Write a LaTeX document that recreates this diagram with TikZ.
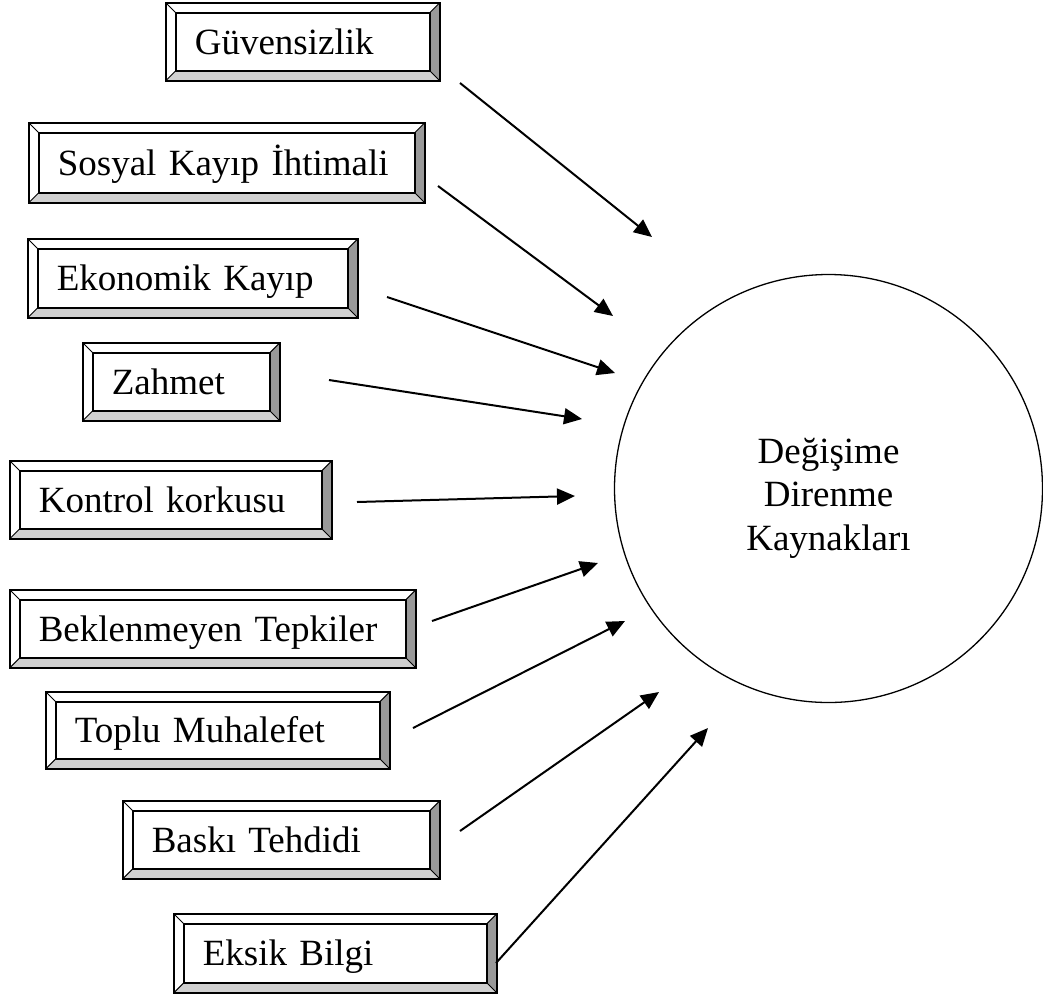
\documentclass[tikz,border=0pt]{standalone}
\usepackage{fontspec}
\setmainfont{Liberation Serif}
\usetikzlibrary{arrows.meta,calc}
\definecolor{bevdark}{HTML}{999999}
\definecolor{bevlight}{HTML}{D0D0D0}

\begin{document}
\begin{tikzpicture}[
   x=1pt, y=-1pt, line width=1.6pt,
   bevel/.style={draw,rectangle,anchor=north west,align=left,
                 inner xsep=29pt,inner ysep=0pt,
                 font=\fontsize{37}{44}\selectfont,
                 text height=29.6pt,text depth=5.1pt,
                 path picture={
                   \coordinate (nw) at (path picture bounding box.north west);
                   \coordinate (ne) at (path picture bounding box.north east);
                   \coordinate (sw) at (path picture bounding box.south west);
                   \coordinate (se) at (path picture bounding box.south east);
                   \coordinate (inw) at ($(nw)+(10pt,-10pt)$);
                   \coordinate (ine) at ($(ne)+(-10pt,-10pt)$);
                   \coordinate (isw) at ($(sw)+(10pt,10pt)$);
                   \coordinate (ise) at ($(se)+(-10pt,10pt)$);
                   \fill[bevdark] (ne) -- (se) -- (ise) -- (ine) -- cycle;
                   \fill[bevlight] (sw) -- (se) -- (ise) -- (isw) -- cycle;
                   \draw[line width=0.9pt] (nw) -- (inw) (ne) -- (ine)
                                           (sw) -- (isw) (se) -- (ise);
                   \draw[line width=1.5pt] (inw) rectangle (ise);
                 }},
   goal/.style={draw,circle,inner sep=0pt,line width=1.3pt},
   goaltext/.style={align=center,font=\fontsize{37}{43.5}\selectfont},
   arr/.style={-{Triangle[length=18pt,width=16pt]},line width=2pt},
   ]
\useasboundingbox (0,0) rectangle (1043,994);
%% sources of resistance
\node[bevel,minimum width=274pt,minimum height=78pt,text width=216pt] (g)  at (165,2)   {Güvensizlik};
\node[bevel,minimum width=396pt,minimum height=80pt,text width=338pt] (s)  at (28,122)  {Sosyal Kayıp İhtimali};
\node[bevel,minimum width=330pt,minimum height=79pt,text width=272pt] (e)  at (27,238)  {Ekonomik Kayıp};
\node[bevel,minimum width=197pt,minimum height=78pt,text width=139pt] (z)  at (82,342)  {Zahmet};
\node[bevel,minimum width=322pt,minimum height=78pt,text width=264pt] (k)  at (9,460)   {Kontrol korkusu};
\node[bevel,minimum width=406pt,minimum height=78pt,text width=348pt] (b)  at (9,589)   {Beklenmeyen Tepkiler};
\node[bevel,minimum width=344pt,minimum height=77pt,text width=286pt] (t)  at (45,691)  {Toplu Muhalefet};
\node[bevel,minimum width=317pt,minimum height=78pt,text width=259pt] (bt) at (122,800) {Baskı Tehdidi};
\node[bevel,minimum width=323pt,minimum height=79pt,text width=265pt] (eb) at (173,913) {Eksik Bilgi};
%% target
\node[goal,minimum size=428pt] (dk) at (828.5,488.5) {};
\node[goaltext] (dkt) at ($(dk.center)+(0,9.4)$) {Değişime\\Direnme\\Kaynakları};
%% arrow ends
\coordinate (g-s)  at (460,83);   \coordinate (g-e)  at (652,237);
\coordinate (s-s)  at (438,186);  \coordinate (s-e)  at (613,316);
\coordinate (e-s)  at (387,297);  \coordinate (e-e)  at (615,373);
\coordinate (z-s)  at (329,380);  \coordinate (z-e)  at (582,419);
\coordinate (k-s)  at (357,502);  \coordinate (k-e)  at (575,496);
\coordinate (b-s)  at (432,621);  \coordinate (b-e)  at (598,563);
\coordinate (t-s)  at (413,728);  \coordinate (t-e)  at (625,621);
\coordinate (bt-s) at (460,831);  \coordinate (bt-e) at (659,692);
\coordinate (eb-s) at (496,963);  \coordinate (eb-e) at (708,728);
%% arrows
\foreach \i in {g,s,e,z,k,b,t,bt,eb} \draw[arr] (\i-s) -- (\i-e);
\end{tikzpicture}
\end{document}
